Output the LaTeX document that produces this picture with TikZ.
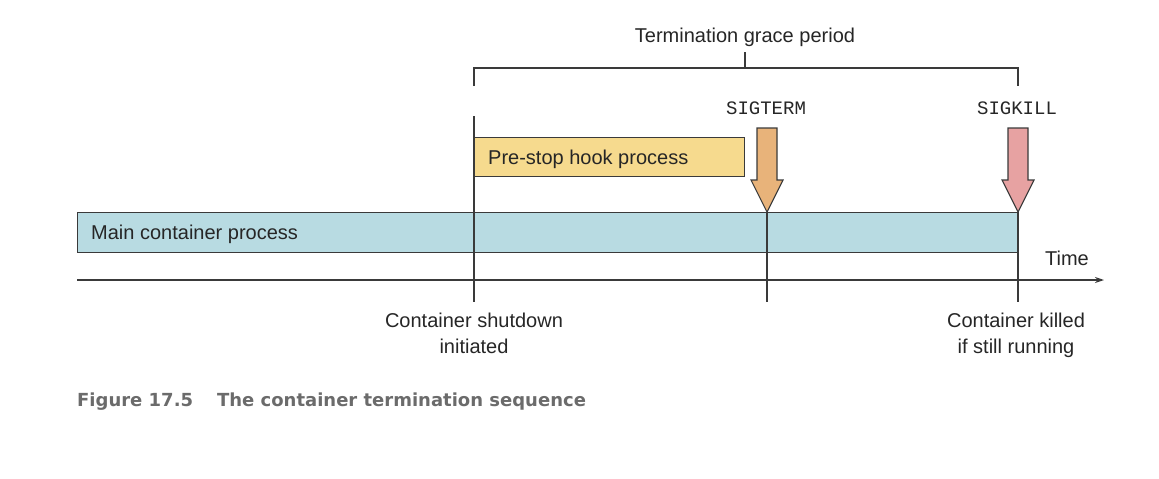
\documentclass[tikz,border=0pt]{standalone}
\usepackage{fontspec}
\setmainfont{Liberation Sans}
\newfontfamily\monofont{Liberation Mono}
\newfontfamily\capfont{DejaVu Sans}
\usetikzlibrary{arrows.meta}
\definecolor{linec}{HTML}{3A3A3A}
\definecolor{mainfill}{HTML}{B8DBE2}
\definecolor{hookfill}{HTML}{F6DA8E}
\definecolor{termfill}{HTML}{E8B37A}
\definecolor{killfill}{HTML}{E7A2A2}
\definecolor{capc}{HTML}{6B6B6B}
\begin{document}
\begin{tikzpicture}[x=1pt,y=-1pt,
  ln/.style={draw=linec,line width=1.3pt},
  bar/.style={ln,anchor=north west,inner sep=0pt,minimum height=40pt},
  lbl/.style={inner sep=0pt,text=black!85,font=\fontsize{20}{26}\selectfont,align=center},
  sig/.style={inner sep=0pt,text=black!85,font=\monofont\fontsize{19}{22}\selectfont},
  bigarrow/.style={ln,line width=1.1pt,line join=miter}]
\useasboundingbox (0,0) rectangle (1159,479);
% bracket
\node[lbl] (grace) at (745,37) {Termination grace period};
\coordinate (bl) at (474,86);
\coordinate (br) at (1018,86);
\coordinate (bm) at (745,68);
\draw[ln] (bl) -- (474,68) -- (1018,68) -- (br);
\draw[ln] (bm) -- (745,52);
% main process
\node[bar,fill=mainfill,minimum width=941pt] (main) at (77,212) {};
\node[lbl,anchor=west] (maintxt) at (91,234.5) {Main container process};
% pre-stop hook
\node[bar,fill=hookfill,minimum width=270pt,minimum height=39pt] (hook) at (474,137) {};
\node[lbl,anchor=west] (hooktxt) at (488,159) {Pre-stop hook process};
% axis
\coordinate (ax0) at (77,280);
\coordinate (ax1) at (1104,280);
\draw[ln,-{Stealth[length=9pt,width=6pt]}] (ax0) -- (ax1);
\node[lbl] (time) at (1067,258) {Time};
% vertical markers
\coordinate (v1t) at (474,116);
\coordinate (v1b) at (474,302);
\coordinate (v2t) at (767,212);
\coordinate (v2b) at (767,302);
\coordinate (v3t) at (1018,212);
\coordinate (v3b) at (1018,302);
\draw[ln] (v1t) -- (v1b);
\draw[ln] (v2t) -- (v2b);
\draw[ln] (v3t) -- (v3b);
% signals
\node[sig] (sigterm) at (766,108) {SIGTERM};
\node[sig] (sigkill) at (1017,108) {SIGKILL};
\draw[bigarrow,fill=termfill] (757,128) -- (777,128) -- (777,180) -- (783,180) -- (v2t) -- (751,180) -- (757,180) -- cycle;
\draw[bigarrow,fill=killfill] (1008,128) -- (1028,128) -- (1028,180) -- (1034,180) -- (v3t) -- (1002,180) -- (1008,180) -- cycle;
% bottom labels
\node[lbl,anchor=north] (shut) at (474,313) {Container shutdown\\initiated};
\node[lbl,anchor=north] (kill) at (1016,313) {Container killed\\if still running};
% caption
\node[anchor=west,inner sep=0pt,text=capc,font=\capfont\bfseries\fontsize{18}{22}\selectfont] (cap) at (77,402) {Figure 17.5\hspace{24pt}The container termination sequence};
\end{tikzpicture}
\end{document}
